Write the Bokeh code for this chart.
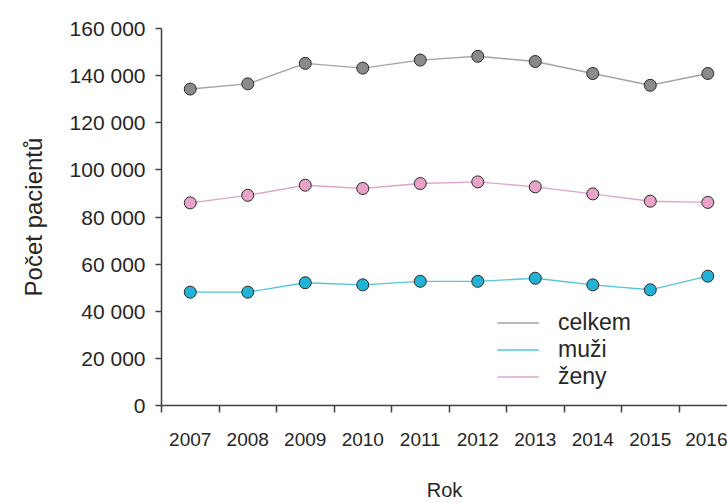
from bokeh.plotting import figure
from bokeh.models import FixedTicker, Legend, LegendItem, ColumnDataSource
from bokeh.embed import file_html
from bokeh.resources import INLINE

years = [2007, 2008, 2009, 2010, 2011, 2012, 2013, 2014, 2015, 2016]
celkem = [134300, 136500, 145200, 143200, 146600, 148200, 146000, 140900, 135900, 140900]
muzi = [48100, 48100, 52100, 51200, 52700, 52700, 54000, 51200, 49100, 54900]
zeny = [86000, 89200, 93500, 92100, 94200, 94900, 92800, 89800, 86700, 86200]
y_ticks = [0, 20000, 40000, 60000, 80000, 100000, 120000, 140000, 160000]

FONT = "Liberation Sans"

p = figure(width=727, height=503, output_backend="svg", toolbar_location=None,
           x_range=(2006.5, 2016.343), y_range=(0, 160000),
           min_border_left=161, min_border_right=0, min_border_top=28, min_border_bottom=97)
p.outline_line_color = None
p.xgrid.visible = False
p.ygrid.visible = False

series = [("celkem", celkem, "#a4a4a4", "#8a8a8a"),
          ("muži", muzi, "#56c4dc", "#22b2d6"),
          ("ženy", zeny, "#dfa6c8", "#e9a3c9")]
items = []
for name, vals, lc, fc in series:
    src = ColumnDataSource(dict(x=years, y=vals))
    ln = p.line("x", "y", source=src, line_color=lc, line_width=1.4)
    p.scatter("x", "y", source=src, size=12, marker="circle", fill_color=fc,
              line_color="#2a2a2a", line_width=1)
    items.append(LegendItem(label=name, renderers=[ln]))

legend = Legend(items=items, location=(336, 15), padding=0, margin=0, spacing=0,
                glyph_width=42, glyph_height=27, label_height=27, label_standoff=19,
                border_line_color=None, background_fill_alpha=0,
                label_text_font=FONT, label_text_font_size="23px", label_text_color="#262626")
p.add_layout(legend, "center")

# x axis
p.xaxis.ticker = FixedTicker(ticks=years, minor_ticks=[y - 0.5 for y in years] + [years[-1] + 0.5])
p.xaxis.major_label_overrides = {y: str(y) for y in years}
p.xaxis.major_tick_out = 0
p.xaxis.major_tick_in = 0
p.xaxis.minor_tick_out = 7
p.xaxis.minor_tick_in = 0
p.xaxis.minor_tick_line_color = "#404040"
p.xaxis.minor_tick_line_width = 1.5
p.xaxis.major_label_standoff = 20
p.xaxis.major_label_text_font = FONT
p.xaxis.major_label_text_font_size = "19px"
p.xaxis.major_label_text_color = "#262626"
p.xaxis.axis_label = "Rok"
p.xaxis.axis_label_text_font = FONT
p.xaxis.axis_label_text_font_size = "20px"
p.xaxis.axis_label_text_font_style = "normal"
p.xaxis.axis_label_text_color = "#262626"
p.xaxis.axis_label_standoff = 30
p.xaxis.axis_line_color = "#404040"
p.xaxis.axis_line_width = 1.5

# y axis
p.yaxis.ticker = FixedTicker(ticks=y_ticks)
p.yaxis.major_label_overrides = {t: f"{t:,}".replace(",", " ") for t in y_ticks}
p.yaxis.major_tick_out = 6
p.yaxis.major_tick_in = 0
p.yaxis.minor_tick_out = 0
p.yaxis.minor_tick_in = 0
p.yaxis.major_tick_line_color = "#404040"
p.yaxis.major_tick_line_width = 1.5
p.yaxis.major_label_standoff = 10
p.yaxis.major_label_text_font = FONT
p.yaxis.major_label_text_font_size = "21px"
p.yaxis.major_label_text_color = "#262626"
p.yaxis.axis_label = "Počet pacientů"
p.yaxis.axis_label_text_font = FONT
p.yaxis.axis_label_text_font_size = "24px"
p.yaxis.axis_label_text_font_style = "normal"
p.yaxis.axis_label_text_color = "#262626"
p.yaxis.axis_label_standoff = 20
p.yaxis.axis_line_color = "#404040"
p.yaxis.axis_line_width = 1.5

open("out.html", "w").write(file_html(p, INLINE))
